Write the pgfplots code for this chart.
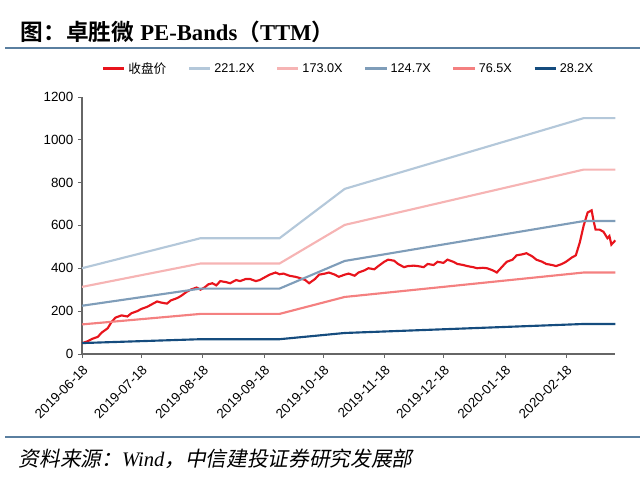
\documentclass[border=0pt]{standalone}
\usepackage{pgfplots}
\pgfplotsset{compat=1.18}
\usepackage{fontspec}
\setmainfont{Liberation Sans}
\newfontfamily\cjk{Noto Sans CJK SC}
\newfontfamily\cjkb{Noto Sans CJK SC Bold}
\newfontfamily\cjki[FakeSlant=0.2]{Noto Sans CJK SC}
\newfontfamily\serifb{Liberation Serif}
\definecolor{cred}{HTML}{E8141C}
\definecolor{c1}{HTML}{B4C8DA}
\definecolor{c2}{HTML}{F6B4B4}
\definecolor{c3}{HTML}{7F9DB9}
\definecolor{c4}{HTML}{F48080}
\definecolor{c5}{HTML}{154C7E}
\definecolor{rule}{HTML}{5A7FA0}
\begin{document}
\begin{tikzpicture}
\begin{scope}[x=0.75pt,y=-0.75pt]
\path[use as bounding box] (0,0) rectangle (640,485);
\node[anchor=west,font=\fontsize{17}{20}\selectfont] at (16,32) {{\cjkb 图：卓胜微} {\serifb\bfseries PE-Bands}{\cjkb（}{\serifb\bfseries TTM}{\cjkb）}};
\draw[rule,line width=1pt] (5,48) -- (640,48);
\draw[rule,line width=1.2pt] (5,437) -- (640,437);
\node[anchor=west,font=\fontsize{15.5}{17}\selectfont] at (14,459) {\cjki 资料来源：{\serifb\itshape Wind}，中信建投证券研究发展部};
\end{scope}
\begin{axis}[at={(61.5pt,-265.5pt)},anchor=south west,scale only axis,
  width=400pt,height=193pt,xmin=0,xmax=270,ymin=0,ymax=1200,
  axis x line*=bottom, axis y line*=left,
  axis line style={gray!80!black,line width=0.8pt},
  xtick={0,30,61,92,122,153,183,214,245},
  xticklabels={2019-06-18,2019-07-18,2019-08-18,2019-09-18,2019-10-18,2019-11-18,2019-12-18,2020-01-18,2020-02-18},
  xticklabel style={rotate=45,anchor=north east,font=\fontsize{10}{11}\selectfont},
  ytick={0,200,400,600,800,1000,1200},
  yticklabel style={font=\fontsize{10}{11}\selectfont,/pgf/number format/1000 sep={}},
  tick align=outside, tick style={gray!80!black}, major tick length=3pt,
  /pgf/number format/assume math mode=true,
  legend style={at={(0.5,1.0)},yshift=12pt,anchor=south,draw=none,legend columns=6,font=\fontsize{9.5}{11}\selectfont,/tikz/every even column/.append style={column sep=14pt}},
  legend image code/.code={\draw[#1,line width=2pt] (0pt,0pt)--(16pt,0pt);},
  clip=false]
\addplot[cred,line width=1.6pt] coordinates {(0,50)(3,60)(5,70)(8,80)(10,100)(13,120)(15,150)(17,170)(20,180)(23,175)(25,190)(28,200)(30,210)(33,220)(35,230)(38,245)(40,240)(43,235)(45,250)(48,260)(50,270)(53,290)(55,300)(58,310)(60,300)(62,310)(64,325)(66,330)(68,320)(70,340)(73,335)(75,330)(78,345)(80,340)(83,350)(85,350)(88,340)(90,345)(93,360)(95,370)(98,380)(100,372)(102,375)(105,365)(108,360)(110,355)(113,345)(115,330)(118,350)(120,370)(123,375)(125,380)(128,370)(130,360)(133,370)(135,375)(138,365)(140,380)(143,390)(145,400)(148,395)(150,410)(153,430)(155,440)(158,435)(160,420)(163,405)(165,410)(168,412)(170,410)(173,405)(175,420)(178,415)(180,430)(183,425)(185,440)(188,430)(190,420)(193,415)(195,410)(198,405)(200,400)(203,402)(205,400)(208,390)(210,380)(213,410)(215,430)(218,440)(220,460)(223,465)(225,470)(228,455)(230,440)(233,430)(235,420)(238,415)(240,410)(243,420)(245,430)(248,450)(250,460)(252,520)(254,600)(256,660)(258,670)(259,620)(260,580)(262,580)(264,570)(266,540)(267,550)(268,510)(270,530)};
\addlegendentry{\cjk 收盘价}
\addplot[c1,line width=1.6pt] coordinates {(0,400)(60,540)(100,540)(133,770)(254,1100)(270,1100)};
\addlegendentry{221.2X}
\addplot[c2,line width=1.6pt] coordinates {(0,313)(60,422)(100,422)(133,602)(254,860)(270,860)};
\addlegendentry{173.0X}
\addplot[c3,line width=1.6pt] coordinates {(0,225)(60,305)(100,305)(133,434)(254,620)(270,620)};
\addlegendentry{124.7X}
\addplot[c4,line width=1.6pt] coordinates {(0,138)(60,187)(100,187)(133,266)(254,380)(270,380)};
\addlegendentry{76.5X}
\addplot[c5,line width=1.6pt] coordinates {(0,51)(60,69)(100,69)(133,98)(254,140)(270,140)};
\addlegendentry{28.2X}
\end{axis}
\end{tikzpicture}
\end{document}
